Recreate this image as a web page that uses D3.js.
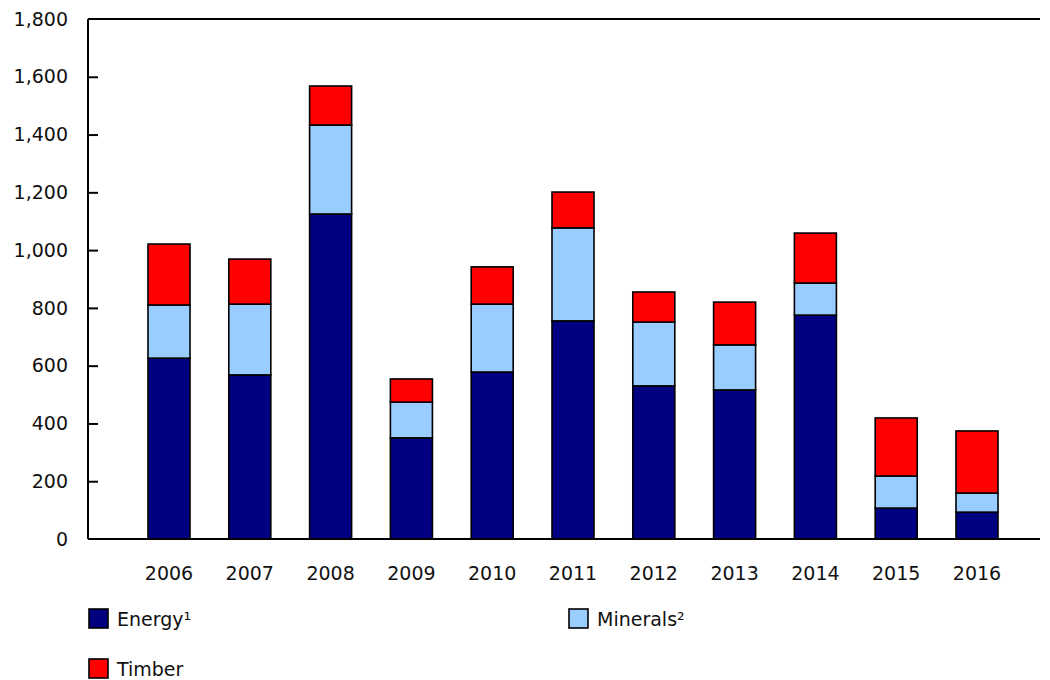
<!DOCTYPE html>
<html>
<head>
<meta charset="utf-8">
<script src="https://cdn.jsdelivr.net/npm/d3@7"></script>
<style>
  body { margin: 0; background: #fff; }
  text { font-family: Verdana, "DejaVu Sans", sans-serif; fill: #111; }
</style>
</head>
<body>
<div class="chart"></div>
<script>
const years = ["2006", "2007", "2008", "2009", "2010", "2011", "2012", "2013", "2014", "2015", "2016"]
const energy = [626, 568, 1125, 350, 578, 755, 530, 516, 775, 107, 93]
const minerals = [184, 245, 308, 124, 235, 322, 221, 156, 111, 111, 66]
const timber = [211, 156, 135, 80, 129, 124, 104, 148, 173, 201, 215]
const yTicks = [0, 200, 400, 600, 800, 1000, 1200, 1400, 1600, 1800]
const seriesKeys = ["energy", "minerals", "timber"]
const seriesLabels = ["Energy¹", "Minerals²", "Timber"]
const seriesColors = ["#000080", "#99ccff", "#ff0000"]

const width = 1050
const height = 680
const plotLeft = 88
const plotRight = 1040
const plotTop = 19
const plotBottom = 539

const svg = d3.select(".chart").append("svg")
  .attr("width", width)
  .attr("height", height)

const rows = years.map((yr, i) => ({ year: yr, energy: energy[i], minerals: minerals[i], timber: timber[i] }))
const stacked = d3.stack().keys(seriesKeys)(rows)

const x = d3.scaleBand()
  .domain(years)
  .range([128.6, 1017.4])
  .paddingInner(0.48)
  .paddingOuter(0.24)

const y = d3.scaleLinear()
  .domain([0, 1800])
  .range([plotBottom, plotTop])

const color = d3.scaleOrdinal().domain(seriesKeys).range(seriesColors)

// bars
svg.append("g")
  .selectAll("g")
  .data(stacked)
  .enter().append("g")
  .attr("fill", d => color(d.key))
  .selectAll("rect")
  .data(d => d)
  .enter().append("rect")
  .attr("x", d => x(d.data.year))
  .attr("width", x.bandwidth())
  .attr("y", d => y(d[1]))
  .attr("height", d => y(d[0]) - y(d[1]))
  .attr("stroke", "#000")
  .attr("stroke-width", 1.6)

// y axis ticks (pointing into the plot)
const yAxis = svg.append("g")
  .attr("transform", "translate(" + plotLeft + ",0)")
  .call(d3.axisRight(y).tickValues(yTicks).tickSize(10).tickFormat(""))
yAxis.select(".domain").remove()
yAxis.selectAll("line").attr("stroke", "#000").attr("stroke-width", 2)
yAxis.selectAll(".tick").filter(d => d === 0 || d === 1800).select("line").remove()

svg.append("g")
  .selectAll("text")
  .data(yTicks)
  .enter().append("text")
  .attr("x", plotLeft - 20)
  .attr("y", d => y(d))
  .attr("dy", "0.35em")
  .attr("text-anchor", "end")
  .attr("font-size", 19)
  .text(d => d3.format(",")(d))

// frame lines: left, top, bottom
svg.append("line").attr("x1", plotLeft).attr("x2", plotLeft).attr("y1", plotTop).attr("y2", plotBottom)
  .attr("stroke", "#000").attr("stroke-width", 2)
svg.append("line").attr("x1", plotLeft).attr("x2", plotRight).attr("y1", plotTop).attr("y2", plotTop)
  .attr("stroke", "#000").attr("stroke-width", 2)
svg.append("line").attr("x1", plotLeft).attr("x2", plotRight).attr("y1", plotBottom).attr("y2", plotBottom)
  .attr("stroke", "#000").attr("stroke-width", 2)

// x labels
svg.append("g")
  .selectAll("text")
  .data(years)
  .enter().append("text")
  .attr("x", d => x(d) + x.bandwidth() / 2)
  .attr("y", 580)
  .attr("text-anchor", "middle")
  .attr("font-size", 19)
  .text(d => d)

// legend
const legendPos = [[88, 608], [568, 608], [88, 658]]
const legend = svg.append("g")
  .selectAll("g")
  .data(seriesKeys)
  .enter().append("g")
  .attr("transform", (d, i) => "translate(" + legendPos[i][0] + "," + legendPos[i][1] + ")")
legend.append("rect")
  .attr("x", 1).attr("y", 1)
  .attr("width", 19).attr("height", 19)
  .attr("fill", d => color(d))
  .attr("stroke", "#000")
  .attr("stroke-width", 1.6)
legend.append("text")
  .attr("x", 29)
  .attr("y", 11)
  .attr("dy", "0.35em")
  .attr("font-size", 19)
  .text((d, i) => seriesLabels[i])
</script>
</body>
</html>
